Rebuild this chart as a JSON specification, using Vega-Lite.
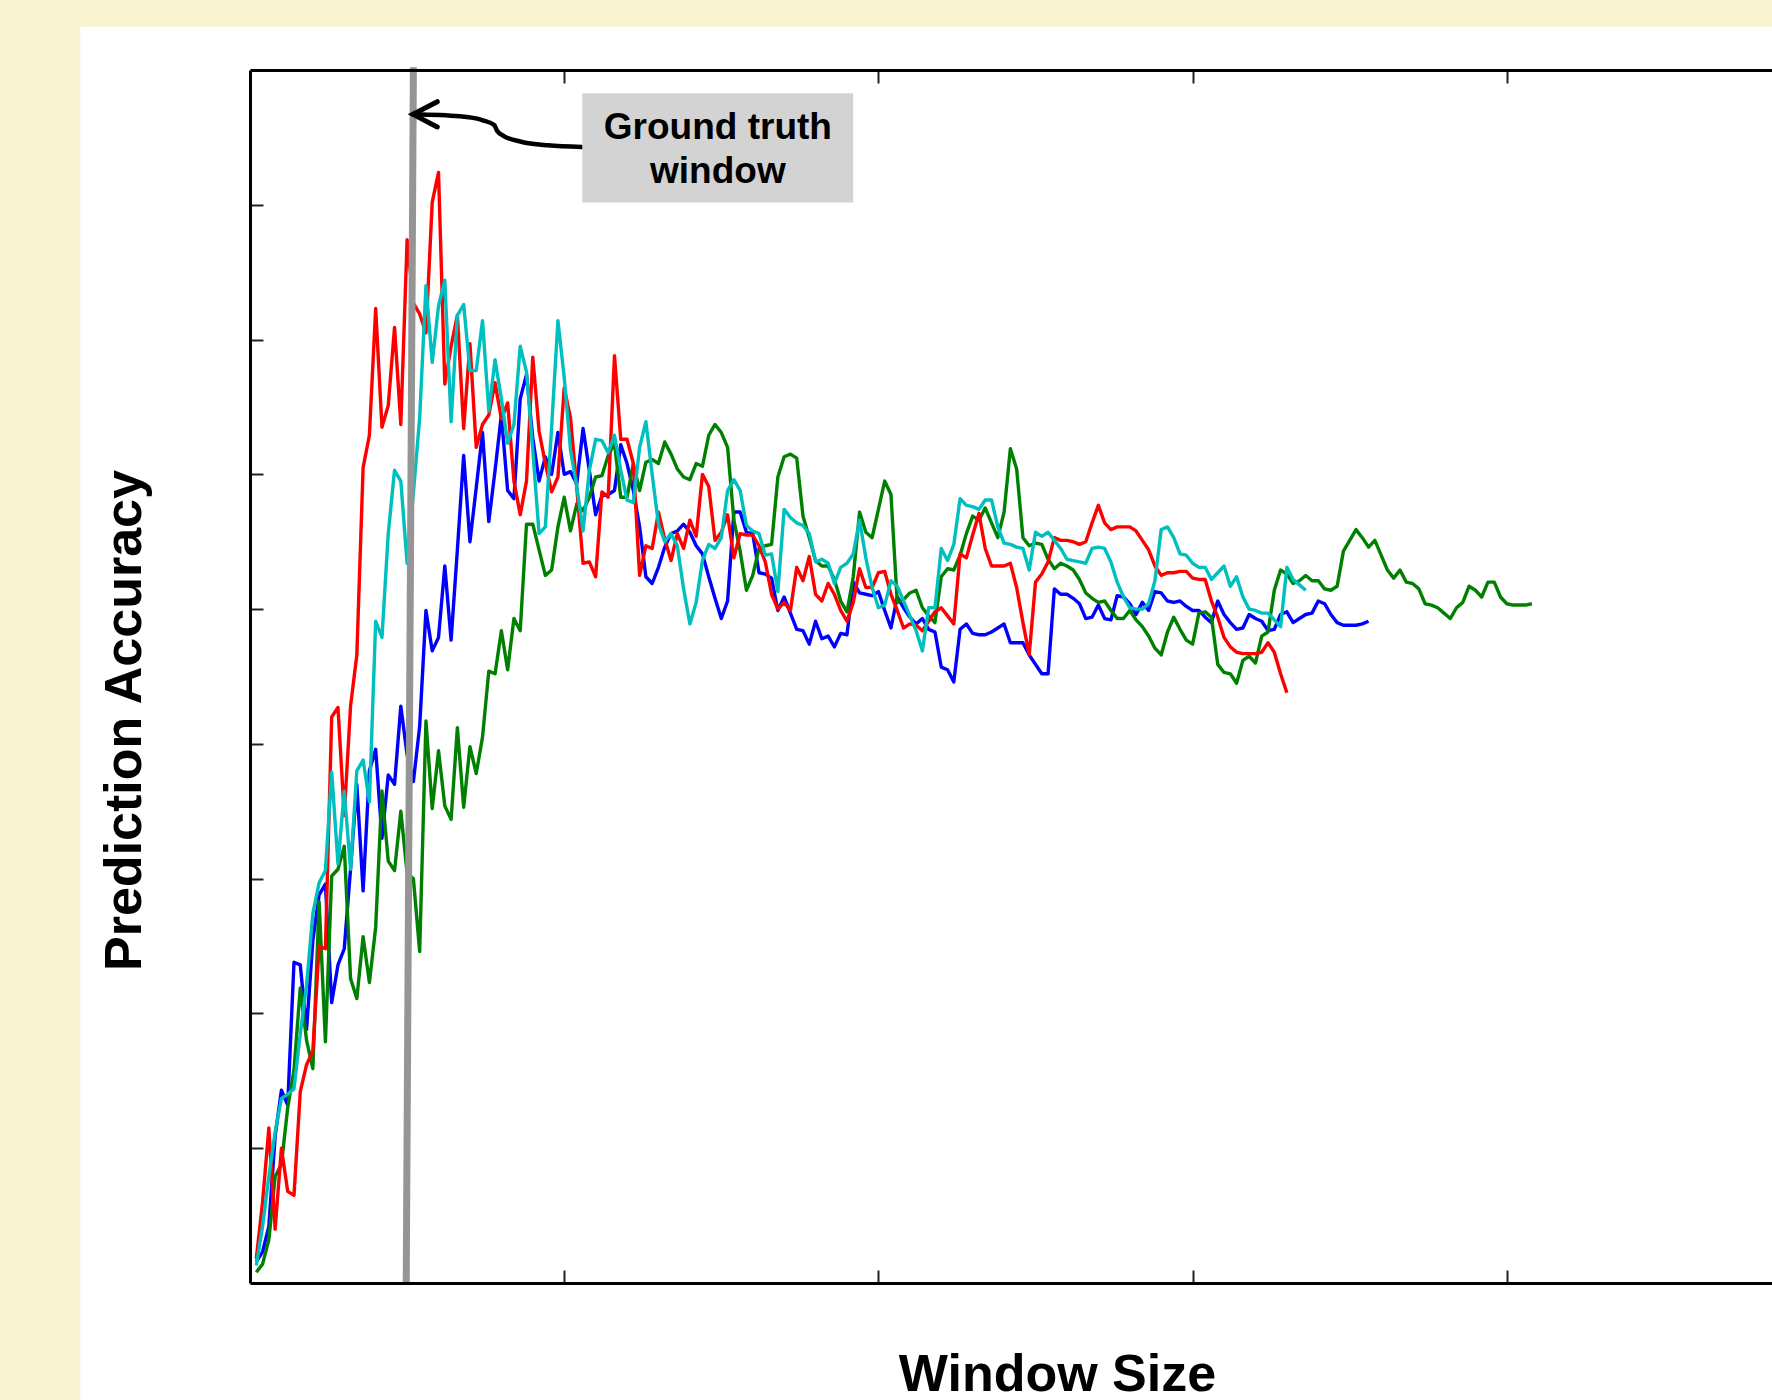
{
"$schema": "https://vega.github.io/schema/vega-lite/v6.json",
"width": 1522,
"height": 1213,
"autosize": {"type": "none"},
"padding": {"left": 250, "top": 70, "right": 0, "bottom": 117},
"background": "#F8F3D1",
"config": {"view": {"stroke": null}},
"resolve": {"axis": {"x": "independent", "y": "independent"}},
"datasets": {
"panel": [{"x0": -27, "x1": 262, "y0": 93.2, "y1": -10}],
"gt": [{"xb": 24.86, "xt": 26.0, "yb": 0, "yt": 90.2}],
"curve": [
{"i": 1, "x": 25.94, "y": 86.71}, {"i": 2, "x": 33.37, "y": 86.56}, {"i": 3, "x": 37.03, "y": 86.27},
{"i": 4, "x": 38.86, "y": 85.92}, {"i": 5, "x": 39.34, "y": 85.47}, {"i": 6, "x": 40.39, "y": 85.1},
{"i": 7, "x": 43.13, "y": 84.68}, {"i": 8, "x": 47.39, "y": 84.41}, {"i": 9, "x": 52.8, "y": 84.29}],
"head": [{"i": 1, "x": 29.8, "y": 87.65}, {"i": 2, "x": 25.94, "y": 86.71}, {"i": 3, "x": 29.8, "y": 85.77}],
"box": [{"x0": 52.87, "x1": 95.99, "y0": 88.27, "y1": 80.16}],
"label": [{"x": 74.45, "y": 85.72, "t": "Ground truth\nwindow"}],
"acc": [
{"s":"b","x":1,"y":1.6},{"s":"b","x":2,"y":2.3},{"s":"b","x":3,"y":4.2},{"s":"b","x":4,"y":10.9},{"s":"b","x":5,"y":14.3},{"s":"b","x":6,"y":13.2},{"s":"b","x":7,"y":23.8},{"s":"b","x":8,"y":23.6},{"s":"b","x":9,"y":18.8},{"s":"b","x":10,"y":25.4},
{"s":"b","x":11,"y":28.8},{"s":"b","x":12,"y":29.6},{"s":"b","x":13,"y":20.8},{"s":"b","x":14,"y":23.6},{"s":"b","x":15,"y":24.8},{"s":"b","x":16,"y":30.7},{"s":"b","x":17,"y":37},{"s":"b","x":18,"y":29.1},{"s":"b","x":19,"y":38},{"s":"b","x":20,"y":39.6},
{"s":"b","x":21,"y":33},{"s":"b","x":22,"y":37.7},{"s":"b","x":23,"y":37},{"s":"b","x":24,"y":42.8},{"s":"b","x":25,"y":39.2},{"s":"b","x":26,"y":37.2},{"s":"b","x":27,"y":41.3},{"s":"b","x":28,"y":49.9},{"s":"b","x":29,"y":46.9},{"s":"b","x":30,"y":47.9},
{"s":"b","x":31,"y":53.2},{"s":"b","x":32,"y":47.7},{"s":"b","x":33,"y":54.4},{"s":"b","x":34,"y":61.4},{"s":"b","x":35,"y":55},{"s":"b","x":36,"y":59},{"s":"b","x":37,"y":63.1},{"s":"b","x":38,"y":56.5},{"s":"b","x":39,"y":60.3},{"s":"b","x":40,"y":64.4},
{"s":"b","x":41,"y":58.8},{"s":"b","x":42,"y":58.2},{"s":"b","x":43,"y":65.6},{"s":"b","x":44,"y":67.4},{"s":"b","x":45,"y":62.7},{"s":"b","x":46,"y":59.5},{"s":"b","x":47,"y":61.3},{"s":"b","x":48,"y":60},{"s":"b","x":49,"y":63.1},{"s":"b","x":50,"y":60},
{"s":"b","x":51,"y":60.2},{"s":"b","x":52,"y":59.3},{"s":"b","x":53,"y":63.4},{"s":"b","x":54,"y":60.3},{"s":"b","x":55,"y":57},{"s":"b","x":56,"y":58.4},{"s":"b","x":57,"y":58.5},{"s":"b","x":58,"y":58.8},{"s":"b","x":59,"y":62.2},{"s":"b","x":60,"y":60.8},
{"s":"b","x":61,"y":58.8},{"s":"b","x":62,"y":56.1},{"s":"b","x":63,"y":52.4},{"s":"b","x":64,"y":51.9},{"s":"b","x":65,"y":53.1},{"s":"b","x":66,"y":54.6},{"s":"b","x":67,"y":55.6},{"s":"b","x":68,"y":55.8},{"s":"b","x":69,"y":56.3},{"s":"b","x":70,"y":55.7},
{"s":"b","x":71,"y":54.7},{"s":"b","x":72,"y":54.1},{"s":"b","x":73,"y":52.4},{"s":"b","x":74,"y":50.8},{"s":"b","x":75,"y":49.3},{"s":"b","x":76,"y":50.6},{"s":"b","x":77,"y":57.2},{"s":"b","x":78,"y":57.2},{"s":"b","x":79,"y":55.7},{"s":"b","x":80,"y":55.6},
{"s":"b","x":81,"y":52.7},{"s":"b","x":82,"y":52.6},{"s":"b","x":83,"y":52.3},{"s":"b","x":84,"y":49.9},{"s":"b","x":85,"y":50.9},{"s":"b","x":86,"y":49.7},{"s":"b","x":87,"y":48.5},{"s":"b","x":88,"y":48.4},{"s":"b","x":89,"y":47.4},{"s":"b","x":90,"y":49.1},
{"s":"b","x":91,"y":47.8},{"s":"b","x":92,"y":48},{"s":"b","x":93,"y":47.2},{"s":"b","x":94,"y":48.2},{"s":"b","x":95,"y":48.1},{"s":"b","x":96,"y":52},{"s":"b","x":97,"y":51.2},{"s":"b","x":98,"y":51.1},{"s":"b","x":99,"y":51},{"s":"b","x":100,"y":51.3},
{"s":"b","x":101,"y":49.9},{"s":"b","x":102,"y":48.6},{"s":"b","x":103,"y":50.9},{"s":"b","x":104,"y":50.1},{"s":"b","x":105,"y":49.4},{"s":"b","x":106,"y":48.9},{"s":"b","x":107,"y":49.3},{"s":"b","x":108,"y":48.5},{"s":"b","x":109,"y":48.3},{"s":"b","x":110,"y":45.7},
{"s":"b","x":111,"y":45.5},{"s":"b","x":112,"y":44.6},{"s":"b","x":113,"y":48.5},{"s":"b","x":114,"y":48.9},{"s":"b","x":115,"y":48.2},{"s":"b","x":116,"y":48.1},{"s":"b","x":117,"y":48.1},{"s":"b","x":118,"y":48.3},{"s":"b","x":119,"y":48.6},{"s":"b","x":120,"y":48.9},
{"s":"b","x":121,"y":47.5},{"s":"b","x":122,"y":47.5},{"s":"b","x":123,"y":47.5},{"s":"b","x":124,"y":46.6},{"s":"b","x":125,"y":45.9},{"s":"b","x":126,"y":45.2},{"s":"b","x":127,"y":45.2},{"s":"b","x":128,"y":51.5},{"s":"b","x":129,"y":51.1},{"s":"b","x":130,"y":51.1},
{"s":"b","x":131,"y":50.8},{"s":"b","x":132,"y":50.4},{"s":"b","x":133,"y":49.3},{"s":"b","x":134,"y":49.4},{"s":"b","x":135,"y":50.3},{"s":"b","x":136,"y":49.3},{"s":"b","x":137,"y":49.2},{"s":"b","x":138,"y":51},{"s":"b","x":139,"y":50.9},{"s":"b","x":140,"y":50.4},
{"s":"b","x":141,"y":49.6},{"s":"b","x":142,"y":50.5},{"s":"b","x":143,"y":49.9},{"s":"b","x":144,"y":51.3},{"s":"b","x":145,"y":51.2},{"s":"b","x":146,"y":50.6},{"s":"b","x":147,"y":50.5},{"s":"b","x":148,"y":50.6},{"s":"b","x":149,"y":50.2},{"s":"b","x":150,"y":49.9},
{"s":"b","x":151,"y":49.9},{"s":"b","x":152,"y":49.4},{"s":"b","x":153,"y":49},{"s":"b","x":154,"y":50.6},{"s":"b","x":155,"y":49.6},{"s":"b","x":156,"y":49},{"s":"b","x":157,"y":48.5},{"s":"b","x":158,"y":48.6},{"s":"b","x":159,"y":49.6},{"s":"b","x":160,"y":49.3},
{"s":"b","x":161,"y":49.1},{"s":"b","x":162,"y":48.4},{"s":"b","x":163,"y":48.5},{"s":"b","x":164,"y":49.6},{"s":"b","x":165,"y":49.8},{"s":"b","x":166,"y":49},{"s":"b","x":167,"y":49.3},{"s":"b","x":168,"y":49.6},{"s":"b","x":169,"y":49.7},{"s":"b","x":170,"y":50.6},
{"s":"b","x":171,"y":50.4},{"s":"b","x":172,"y":49.6},{"s":"b","x":173,"y":49},{"s":"b","x":174,"y":48.8},{"s":"b","x":175,"y":48.8},{"s":"b","x":176,"y":48.8},{"s":"b","x":177,"y":48.9},{"s":"b","x":178,"y":49.1},
{"s":"g","x":1,"y":0.8},{"s":"g","x":2,"y":1.4},{"s":"g","x":3,"y":3.2},{"s":"g","x":4,"y":7.9},{"s":"g","x":5,"y":8.8},{"s":"g","x":6,"y":13},{"s":"g","x":7,"y":15.8},{"s":"g","x":8,"y":21.9},{"s":"g","x":9,"y":18},{"s":"g","x":10,"y":15.9},
{"s":"g","x":11,"y":28.3},{"s":"g","x":12,"y":17.9},{"s":"g","x":13,"y":30.2},{"s":"g","x":14,"y":30.7},{"s":"g","x":15,"y":32.4},{"s":"g","x":16,"y":22.6},{"s":"g","x":17,"y":21.1},{"s":"g","x":18,"y":25.7},{"s":"g","x":19,"y":22.3},{"s":"g","x":20,"y":26.4},
{"s":"g","x":21,"y":36.5},{"s":"g","x":22,"y":31.3},{"s":"g","x":23,"y":30.6},{"s":"g","x":24,"y":35},{"s":"g","x":25,"y":30.4},{"s":"g","x":26,"y":30},{"s":"g","x":27,"y":24.6},{"s":"g","x":28,"y":41.7},{"s":"g","x":29,"y":35.2},{"s":"g","x":30,"y":39.5},
{"s":"g","x":31,"y":35.4},{"s":"g","x":32,"y":34.4},{"s":"g","x":33,"y":41.2},{"s":"g","x":34,"y":35.3},{"s":"g","x":35,"y":39.8},{"s":"g","x":36,"y":37.8},{"s":"g","x":37,"y":40.5},{"s":"g","x":38,"y":45.4},{"s":"g","x":39,"y":45.2},{"s":"g","x":40,"y":48.4},
{"s":"g","x":41,"y":45.5},{"s":"g","x":42,"y":49.3},{"s":"g","x":43,"y":48.4},{"s":"g","x":44,"y":56.3},{"s":"g","x":45,"y":56.3},{"s":"g","x":46,"y":54.4},{"s":"g","x":47,"y":52.5},{"s":"g","x":48,"y":52.9},{"s":"g","x":49,"y":56.1},{"s":"g","x":50,"y":58.3},
{"s":"g","x":51,"y":55.8},{"s":"g","x":52,"y":57.8},{"s":"g","x":53,"y":57.3},{"s":"g","x":54,"y":58.3},{"s":"g","x":55,"y":59.8},{"s":"g","x":56,"y":59.9},{"s":"g","x":57,"y":61.4},{"s":"g","x":58,"y":62.3},{"s":"g","x":59,"y":58.3},{"s":"g","x":60,"y":58.3},
{"s":"g","x":61,"y":60.8},{"s":"g","x":62,"y":58.8},{"s":"g","x":63,"y":60.9},{"s":"g","x":64,"y":61.1},{"s":"g","x":65,"y":60.8},{"s":"g","x":66,"y":62.4},{"s":"g","x":67,"y":61.5},{"s":"g","x":68,"y":60.4},{"s":"g","x":69,"y":59.8},{"s":"g","x":70,"y":59.6},
{"s":"g","x":71,"y":60.8},{"s":"g","x":72,"y":60.6},{"s":"g","x":73,"y":62.9},{"s":"g","x":74,"y":63.7},{"s":"g","x":75,"y":63.1},{"s":"g","x":76,"y":62},{"s":"g","x":77,"y":56.6},{"s":"g","x":78,"y":54.3},{"s":"g","x":79,"y":51.4},{"s":"g","x":80,"y":52.5},
{"s":"g","x":81,"y":54.5},{"s":"g","x":82,"y":54.7},{"s":"g","x":83,"y":54.8},{"s":"g","x":84,"y":59.8},{"s":"g","x":85,"y":61.3},{"s":"g","x":86,"y":61.5},{"s":"g","x":87,"y":61.2},{"s":"g","x":88,"y":56.9},{"s":"g","x":89,"y":55.3},{"s":"g","x":90,"y":53.6},
{"s":"g","x":91,"y":53.2},{"s":"g","x":92,"y":53.2},{"s":"g","x":93,"y":52.2},{"s":"g","x":94,"y":50.6},{"s":"g","x":95,"y":49.8},{"s":"g","x":96,"y":52.4},{"s":"g","x":97,"y":57.2},{"s":"g","x":98,"y":55.7},{"s":"g","x":99,"y":55.3},{"s":"g","x":100,"y":57.4},
{"s":"g","x":101,"y":59.5},{"s":"g","x":102,"y":58.5},{"s":"g","x":103,"y":50.5},{"s":"g","x":104,"y":50.7},{"s":"g","x":105,"y":51.2},{"s":"g","x":106,"y":51.4},{"s":"g","x":107,"y":50.1},{"s":"g","x":108,"y":49.5},{"s":"g","x":109,"y":49},{"s":"g","x":110,"y":52.4},
{"s":"g","x":111,"y":53},{"s":"g","x":112,"y":52.9},{"s":"g","x":113,"y":54},{"s":"g","x":114,"y":55.6},{"s":"g","x":115,"y":56.9},{"s":"g","x":116,"y":56.6},{"s":"g","x":117,"y":57.5},{"s":"g","x":118,"y":56.4},{"s":"g","x":119,"y":55.3},{"s":"g","x":120,"y":57.2},
{"s":"g","x":121,"y":61.9},{"s":"g","x":122,"y":60.4},{"s":"g","x":123,"y":55.3},{"s":"g","x":124,"y":54.7},{"s":"g","x":125,"y":54.9},{"s":"g","x":126,"y":54.8},{"s":"g","x":127,"y":53.7},{"s":"g","x":128,"y":53},{"s":"g","x":129,"y":53.4},{"s":"g","x":130,"y":53.2},
{"s":"g","x":131,"y":52.9},{"s":"g","x":132,"y":52.2},{"s":"g","x":133,"y":51.2},{"s":"g","x":134,"y":50.8},{"s":"g","x":135,"y":50.5},{"s":"g","x":136,"y":50.6},{"s":"g","x":137,"y":49.9},{"s":"g","x":138,"y":49.3},{"s":"g","x":139,"y":49.3},{"s":"g","x":140,"y":49.9},
{"s":"g","x":141,"y":49.2},{"s":"g","x":142,"y":48.7},{"s":"g","x":143,"y":48},{"s":"g","x":144,"y":47.1},{"s":"g","x":145,"y":46.6},{"s":"g","x":146,"y":48.3},{"s":"g","x":147,"y":49.4},{"s":"g","x":148,"y":48.5},{"s":"g","x":149,"y":47.7},{"s":"g","x":150,"y":47.4},
{"s":"g","x":151,"y":49.7},{"s":"g","x":152,"y":49.8},{"s":"g","x":153,"y":49.4},{"s":"g","x":154,"y":45.9},{"s":"g","x":155,"y":45.3},{"s":"g","x":156,"y":45.2},{"s":"g","x":157,"y":44.5},{"s":"g","x":158,"y":46.2},{"s":"g","x":159,"y":46.5},{"s":"g","x":160,"y":46},
{"s":"g","x":161,"y":48},{"s":"g","x":162,"y":48.3},{"s":"g","x":163,"y":51.4},{"s":"g","x":164,"y":52.9},{"s":"g","x":165,"y":52.6},{"s":"g","x":166,"y":51.9},{"s":"g","x":167,"y":52.1},{"s":"g","x":168,"y":52.5},{"s":"g","x":169,"y":52.1},{"s":"g","x":170,"y":52.1},
{"s":"g","x":171,"y":51.5},{"s":"g","x":172,"y":51.4},{"s":"g","x":173,"y":51.7},{"s":"g","x":174,"y":54.3},{"s":"g","x":175,"y":55.1},{"s":"g","x":176,"y":55.9},{"s":"g","x":177,"y":55.3},{"s":"g","x":178,"y":54.6},{"s":"g","x":179,"y":55.1},{"s":"g","x":180,"y":54},
{"s":"g","x":181,"y":52.9},{"s":"g","x":182,"y":52.3},{"s":"g","x":183,"y":52.9},{"s":"g","x":184,"y":52},{"s":"g","x":185,"y":51.9},{"s":"g","x":186,"y":51.5},{"s":"g","x":187,"y":50.4},{"s":"g","x":188,"y":50.3},{"s":"g","x":189,"y":50.1},{"s":"g","x":190,"y":49.7},
{"s":"g","x":191,"y":49.3},{"s":"g","x":192,"y":50.1},{"s":"g","x":193,"y":50.5},{"s":"g","x":194,"y":51.7},{"s":"g","x":195,"y":51.4},{"s":"g","x":196,"y":50.9},{"s":"g","x":197,"y":52},{"s":"g","x":198,"y":52},{"s":"g","x":199,"y":50.9},{"s":"g","x":200,"y":50.4},
{"s":"g","x":201,"y":50.3},{"s":"g","x":202,"y":50.3},{"s":"g","x":203,"y":50.3},{"s":"g","x":204,"y":50.4},
{"s":"r","x":1,"y":1.8},{"s":"r","x":2,"y":6},{"s":"r","x":3,"y":11.5},{"s":"r","x":4,"y":4},{"s":"r","x":5,"y":10},{"s":"r","x":6,"y":6.8},{"s":"r","x":7,"y":6.5},{"s":"r","x":8,"y":14.2},{"s":"r","x":9,"y":16.2},{"s":"r","x":10,"y":17.2},
{"s":"r","x":11,"y":25},{"s":"r","x":12,"y":24.8},{"s":"r","x":13,"y":42},{"s":"r","x":14,"y":42.7},{"s":"r","x":15,"y":34.7},{"s":"r","x":16,"y":42.8},{"s":"r","x":17,"y":46.6},{"s":"r","x":18,"y":60.5},{"s":"r","x":19,"y":62.9},{"s":"r","x":20,"y":72.3},
{"s":"r","x":21,"y":63.5},{"s":"r","x":22,"y":65.1},{"s":"r","x":23,"y":70.9},{"s":"r","x":24,"y":63.7},{"s":"r","x":25,"y":77.4},{"s":"r","x":26,"y":72.7},{"s":"r","x":27,"y":71.9},{"s":"r","x":28,"y":70.5},{"s":"r","x":29,"y":80.2},{"s":"r","x":30,"y":82.4},
{"s":"r","x":31,"y":66.7},{"s":"r","x":32,"y":69.5},{"s":"r","x":33,"y":71.8},{"s":"r","x":34,"y":63.4},{"s":"r","x":35,"y":69.7},{"s":"r","x":36,"y":62},{"s":"r","x":37,"y":63.7},{"s":"r","x":38,"y":64.4},{"s":"r","x":39,"y":66.8},{"s":"r","x":40,"y":64.1},
{"s":"r","x":41,"y":65.3},{"s":"r","x":42,"y":59.5},{"s":"r","x":43,"y":57},{"s":"r","x":44,"y":59.5},{"s":"r","x":45,"y":68.7},{"s":"r","x":46,"y":63.2},{"s":"r","x":47,"y":60.8},{"s":"r","x":48,"y":58.7},{"s":"r","x":49,"y":59.8},{"s":"r","x":50,"y":66.4},
{"s":"r","x":51,"y":64.2},{"s":"r","x":52,"y":59},{"s":"r","x":53,"y":53.4},{"s":"r","x":54,"y":53.5},{"s":"r","x":55,"y":52.4},{"s":"r","x":56,"y":58.7},{"s":"r","x":57,"y":58.3},{"s":"r","x":58,"y":68.8},{"s":"r","x":59,"y":62.6},{"s":"r","x":60,"y":62.6},
{"s":"r","x":61,"y":60.8},{"s":"r","x":62,"y":52.5},{"s":"r","x":63,"y":54.7},{"s":"r","x":64,"y":54.5},{"s":"r","x":65,"y":57.2},{"s":"r","x":66,"y":55.2},{"s":"r","x":67,"y":53.6},{"s":"r","x":68,"y":55.6},{"s":"r","x":69,"y":54.5},{"s":"r","x":70,"y":56.6},
{"s":"r","x":71,"y":55.4},{"s":"r","x":72,"y":60},{"s":"r","x":73,"y":59.1},{"s":"r","x":74,"y":55.1},{"s":"r","x":75,"y":55.7},{"s":"r","x":76,"y":57},{"s":"r","x":77,"y":53.8},{"s":"r","x":78,"y":55.6},{"s":"r","x":79,"y":55.5},{"s":"r","x":80,"y":55.5},
{"s":"r","x":81,"y":54.7},{"s":"r","x":82,"y":53.5},{"s":"r","x":83,"y":51.1},{"s":"r","x":84,"y":50},{"s":"r","x":85,"y":50.5},{"s":"r","x":86,"y":49.9},{"s":"r","x":87,"y":53.1},{"s":"r","x":88,"y":52.1},{"s":"r","x":89,"y":53.9},{"s":"r","x":90,"y":51.1},
{"s":"r","x":91,"y":50.6},{"s":"r","x":92,"y":51.9},{"s":"r","x":93,"y":51.1},{"s":"r","x":94,"y":49.9},{"s":"r","x":95,"y":49.1},{"s":"r","x":96,"y":50.5},{"s":"r","x":97,"y":53},{"s":"r","x":98,"y":51.6},{"s":"r","x":99,"y":51.6},{"s":"r","x":100,"y":52.7},
{"s":"r","x":101,"y":52.8},{"s":"r","x":102,"y":51.1},{"s":"r","x":103,"y":49.9},{"s":"r","x":104,"y":48.6},{"s":"r","x":105,"y":48.9},{"s":"r","x":106,"y":48.8},{"s":"r","x":107,"y":48.4},{"s":"r","x":108,"y":49.1},{"s":"r","x":109,"y":49.8},{"s":"r","x":110,"y":50.1},
{"s":"r","x":111,"y":49.5},{"s":"r","x":112,"y":48.9},{"s":"r","x":113,"y":54.1},{"s":"r","x":114,"y":53.8},{"s":"r","x":115,"y":55.5},{"s":"r","x":116,"y":57.1},{"s":"r","x":117,"y":54.5},{"s":"r","x":118,"y":53.2},{"s":"r","x":119,"y":53.2},{"s":"r","x":120,"y":53.2},
{"s":"r","x":121,"y":53.4},{"s":"r","x":122,"y":51.6},{"s":"r","x":123,"y":49},{"s":"r","x":124,"y":46.6},{"s":"r","x":125,"y":52},{"s":"r","x":126,"y":52.6},{"s":"r","x":127,"y":53.5},{"s":"r","x":128,"y":55.3},{"s":"r","x":129,"y":55.1},{"s":"r","x":130,"y":55.1},
{"s":"r","x":131,"y":55},{"s":"r","x":132,"y":54.8},{"s":"r","x":133,"y":55},{"s":"r","x":134,"y":56.4},{"s":"r","x":135,"y":57.7},{"s":"r","x":136,"y":56.4},{"s":"r","x":137,"y":55.9},{"s":"r","x":138,"y":56.1},{"s":"r","x":139,"y":56.1},{"s":"r","x":140,"y":56.1},
{"s":"r","x":141,"y":55.8},{"s":"r","x":142,"y":55.1},{"s":"r","x":143,"y":54.4},{"s":"r","x":144,"y":53.2},{"s":"r","x":145,"y":52.5},{"s":"r","x":146,"y":52.7},{"s":"r","x":147,"y":52.7},{"s":"r","x":148,"y":52.8},{"s":"r","x":149,"y":52.8},{"s":"r","x":150,"y":52.3},
{"s":"r","x":151,"y":52.2},{"s":"r","x":152,"y":52.2},{"s":"r","x":153,"y":50.6},{"s":"r","x":154,"y":49.4},{"s":"r","x":155,"y":47.9},{"s":"r","x":156,"y":47.2},{"s":"r","x":157,"y":46.8},{"s":"r","x":158,"y":46.7},{"s":"r","x":159,"y":46.7},{"s":"r","x":160,"y":46.7},
{"s":"r","x":161,"y":46.8},{"s":"r","x":162,"y":47.5},{"s":"r","x":163,"y":46.8},{"s":"r","x":164,"y":45.2},{"s":"r","x":165,"y":43.8},
{"s":"c","x":1,"y":1.3},{"s":"c","x":2,"y":4.2},{"s":"c","x":3,"y":7.9},{"s":"c","x":4,"y":11.2},{"s":"c","x":5,"y":13.7},{"s":"c","x":6,"y":14},{"s":"c","x":7,"y":14.4},{"s":"c","x":8,"y":18.5},{"s":"c","x":9,"y":22.1},{"s":"c","x":10,"y":27.4},
{"s":"c","x":11,"y":29.7},{"s":"c","x":12,"y":30.6},{"s":"c","x":13,"y":37.9},{"s":"c","x":14,"y":31.1},{"s":"c","x":15,"y":36.5},{"s":"c","x":16,"y":30.7},{"s":"c","x":17,"y":38},{"s":"c","x":18,"y":38.8},{"s":"c","x":19,"y":35.7},{"s":"c","x":20,"y":49.1},
{"s":"c","x":21,"y":47.9},{"s":"c","x":22,"y":55.6},{"s":"c","x":23,"y":60.3},{"s":"c","x":24,"y":59.5},{"s":"c","x":25,"y":53.4},{"s":"c","x":26,"y":58.6},{"s":"c","x":27,"y":64.2},{"s":"c","x":28,"y":74},{"s":"c","x":29,"y":68.3},{"s":"c","x":30,"y":72.5},
{"s":"c","x":31,"y":74.4},{"s":"c","x":32,"y":63.9},{"s":"c","x":33,"y":71.8},{"s":"c","x":34,"y":72.6},{"s":"c","x":35,"y":67.7},{"s":"c","x":36,"y":67.7},{"s":"c","x":37,"y":71.4},{"s":"c","x":38,"y":64.7},{"s":"c","x":39,"y":68.5},{"s":"c","x":40,"y":65.6},
{"s":"c","x":41,"y":62.3},{"s":"c","x":42,"y":63.7},{"s":"c","x":43,"y":69.5},{"s":"c","x":44,"y":67.6},{"s":"c","x":45,"y":61.8},{"s":"c","x":46,"y":55.6},{"s":"c","x":47,"y":56.1},{"s":"c","x":48,"y":63.5},{"s":"c","x":49,"y":71.4},{"s":"c","x":50,"y":67.2},
{"s":"c","x":51,"y":61.8},{"s":"c","x":52,"y":59.1},{"s":"c","x":53,"y":55.8},{"s":"c","x":54,"y":60.3},{"s":"c","x":55,"y":62.6},{"s":"c","x":56,"y":62.5},{"s":"c","x":57,"y":61.6},{"s":"c","x":58,"y":62.9},{"s":"c","x":59,"y":60.3},{"s":"c","x":60,"y":58.1},
{"s":"c","x":61,"y":57.9},{"s":"c","x":62,"y":62},{"s":"c","x":63,"y":63.9},{"s":"c","x":64,"y":60},{"s":"c","x":65,"y":56.3},{"s":"c","x":66,"y":55},{"s":"c","x":67,"y":55.6},{"s":"c","x":68,"y":54.7},{"s":"c","x":69,"y":51.5},{"s":"c","x":70,"y":48.9},
{"s":"c","x":71,"y":50.5},{"s":"c","x":72,"y":53.6},{"s":"c","x":73,"y":54.8},{"s":"c","x":74,"y":54.5},{"s":"c","x":75,"y":55.3},{"s":"c","x":76,"y":58.8},{"s":"c","x":77,"y":59.6},{"s":"c","x":78,"y":58.8},{"s":"c","x":79,"y":56.2},{"s":"c","x":80,"y":55.8},
{"s":"c","x":81,"y":55.6},{"s":"c","x":82,"y":54},{"s":"c","x":83,"y":54.1},{"s":"c","x":84,"y":51.3},{"s":"c","x":85,"y":57.4},{"s":"c","x":86,"y":56.8},{"s":"c","x":87,"y":56.4},{"s":"c","x":88,"y":56.2},{"s":"c","x":89,"y":55.6},{"s":"c","x":90,"y":53.5},
{"s":"c","x":91,"y":53.7},{"s":"c","x":92,"y":53.4},{"s":"c","x":93,"y":51.9},{"s":"c","x":94,"y":53.1},{"s":"c","x":95,"y":53.4},{"s":"c","x":96,"y":54.1},{"s":"c","x":97,"y":56.6},{"s":"c","x":98,"y":53.8},{"s":"c","x":99,"y":51.6},{"s":"c","x":100,"y":50.1},
{"s":"c","x":101,"y":50.3},{"s":"c","x":102,"y":52.1},{"s":"c","x":103,"y":51.7},{"s":"c","x":104,"y":50.6},{"s":"c","x":105,"y":49.5},{"s":"c","x":106,"y":48.4},{"s":"c","x":107,"y":46.9},{"s":"c","x":108,"y":50.1},{"s":"c","x":109,"y":50.1},{"s":"c","x":110,"y":54.5},
{"s":"c","x":111,"y":53.6},{"s":"c","x":112,"y":54.8},{"s":"c","x":113,"y":58.2},{"s":"c","x":114,"y":57.7},{"s":"c","x":115,"y":57.6},{"s":"c","x":116,"y":57.4},{"s":"c","x":117,"y":58.1},{"s":"c","x":118,"y":58.1},{"s":"c","x":119,"y":56.1},{"s":"c","x":120,"y":54.9},
{"s":"c","x":121,"y":54.8},{"s":"c","x":122,"y":54.6},{"s":"c","x":123,"y":54.5},{"s":"c","x":124,"y":52.9},{"s":"c","x":125,"y":55.7},{"s":"c","x":126,"y":55.4},{"s":"c","x":127,"y":55.7},{"s":"c","x":128,"y":55.1},{"s":"c","x":129,"y":54.5},{"s":"c","x":130,"y":53.7},
{"s":"c","x":131,"y":53.6},{"s":"c","x":132,"y":53.5},{"s":"c","x":133,"y":53.4},{"s":"c","x":134,"y":54.5},{"s":"c","x":135,"y":54.6},{"s":"c","x":136,"y":54.5},{"s":"c","x":137,"y":53.5},{"s":"c","x":138,"y":52},{"s":"c","x":139,"y":50.9},{"s":"c","x":140,"y":50.1},
{"s":"c","x":141,"y":50},{"s":"c","x":142,"y":50},{"s":"c","x":143,"y":50.4},{"s":"c","x":144,"y":52.1},{"s":"c","x":145,"y":55.9},{"s":"c","x":146,"y":56.1},{"s":"c","x":147,"y":55.3},{"s":"c","x":148,"y":54.1},{"s":"c","x":149,"y":54},{"s":"c","x":150,"y":53.4},
{"s":"c","x":151,"y":53.1},{"s":"c","x":152,"y":53.1},{"s":"c","x":153,"y":52.2},{"s":"c","x":154,"y":52.7},{"s":"c","x":155,"y":53.2},{"s":"c","x":156,"y":51.7},{"s":"c","x":157,"y":52.4},{"s":"c","x":158,"y":50.9},{"s":"c","x":159,"y":50},{"s":"c","x":160,"y":49.9},
{"s":"c","x":161,"y":49.7},{"s":"c","x":162,"y":49.7},{"s":"c","x":163,"y":49.2},{"s":"c","x":164,"y":48.7},{"s":"c","x":165,"y":53.1},{"s":"c","x":166,"y":52.2},{"s":"c","x":167,"y":51.8},{"s":"c","x":168,"y":51.4}
]
},
"layer": [
{
"data": {"name": "panel"},
"mark": {"type": "rect", "fill": "#FFFFFF", "clip": false},
"encoding": {
"x": {"field": "x0", "type": "quantitative", "scale": {"domain": [0, 242.2], "nice": false, "zero": false},
"axis": {"orient": "bottom", "values": [50, 100, 150, 200], "labels": false, "ticks": true, "tickSize": -13, "tickColor": "#222222", "tickWidth": 2, "domain": true, "domainColor": "#000000", "domainWidth": 3, "grid": false, "zindex": 1,
"title": "Window Size", "titleFont": "Liberation Sans", "titleFontSize": 52, "titleFontWeight": "bold", "titleColor": "#000000", "titleX": 807, "titleY": 107, "titleAlign": "center", "titleBaseline": "alphabetic"}},
"x2": {"field": "x1"},
"y": {"field": "y0", "type": "quantitative", "scale": {"domain": [0, 90], "nice": false, "zero": false},
"axis": {"orient": "left", "values": [10, 20, 30, 40, 50, 60, 70, 80], "labels": false, "ticks": true, "tickSize": -13, "tickColor": "#222222", "tickWidth": 2, "domain": true, "domainColor": "#000000", "domainWidth": 3, "grid": false, "zindex": 1,
"title": "Prediction Accuracy", "titleFont": "Liberation Sans", "titleFontSize": 52, "titleFontWeight": "bold", "titleColor": "#000000", "titleAngle": 270, "titleX": -110, "titleY": 650, "titleAlign": "center", "titleBaseline": "alphabetic"}},
"y2": {"field": "y1"}
}
},
{
"data": {"name": "acc"},
"mark": {"type": "line", "strokeWidth": 3.4, "strokeJoin": "round", "clip": false},
"encoding": {
"x": {"field": "x", "type": "quantitative", "scale": {"domain": [0, 242.2], "nice": false, "zero": false},
"axis": {"orient": "top", "values": [50, 100, 150, 200], "labels": false, "ticks": true, "tickSize": -13, "tickColor": "#222222", "tickWidth": 2, "domain": true, "domainColor": "#000000", "domainWidth": 3, "grid": false, "zindex": 1, "title": null}},
"y": {"field": "y", "type": "quantitative", "scale": {"domain": [0, 90], "nice": false, "zero": false}, "axis": null},
"color": {"field": "s", "type": "nominal", "scale": {"domain": ["b", "g", "r", "c"], "range": ["#0000FF", "#008000", "#FF0000", "#00BFBF"]}, "legend": null}
}
},
{
"data": {"name": "gt"},
"mark": {"type": "rule", "color": "#959595", "strokeWidth": 7, "clip": false},
"encoding": {
"x": {"field": "xb", "type": "quantitative", "scale": {"domain": [0, 242.2], "nice": false, "zero": false}, "axis": null},
"x2": {"field": "xt"},
"y": {"field": "yb", "type": "quantitative", "scale": {"domain": [0, 90], "nice": false, "zero": false}, "axis": null},
"y2": {"field": "yt"}
}
},
{
"data": {"name": "curve"},
"mark": {"type": "line", "color": "#000000", "strokeWidth": 4.5, "strokeCap": "round", "interpolate": "monotone", "clip": false},
"encoding": {
"x": {"field": "x", "type": "quantitative", "scale": {"domain": [0, 242.2], "nice": false, "zero": false}, "axis": null},
"y": {"field": "y", "type": "quantitative", "scale": {"domain": [0, 90], "nice": false, "zero": false}, "axis": null},
"order": {"field": "i", "type": "quantitative"}
}
},
{
"data": {"name": "head"},
"mark": {"type": "line", "color": "#000000", "strokeWidth": 5, "strokeCap": "round", "strokeJoin": "miter", "clip": false},
"encoding": {
"x": {"field": "x", "type": "quantitative", "scale": {"domain": [0, 242.2], "nice": false, "zero": false}, "axis": null},
"y": {"field": "y", "type": "quantitative", "scale": {"domain": [0, 90], "nice": false, "zero": false}, "axis": null},
"order": {"field": "i", "type": "quantitative"}
}
},
{
"data": {"name": "box"},
"mark": {"type": "rect", "fill": "#D3D3D3", "clip": false},
"encoding": {
"x": {"field": "x0", "type": "quantitative", "scale": {"domain": [0, 242.2], "nice": false, "zero": false}, "axis": null},
"x2": {"field": "x1"},
"y": {"field": "y0", "type": "quantitative", "scale": {"domain": [0, 90], "nice": false, "zero": false}, "axis": null},
"y2": {"field": "y1"}
}
},
{
"data": {"name": "label"},
"mark": {"type": "text", "font": "Liberation Sans", "fontSize": 37, "fontWeight": "bold", "color": "#000000", "align": "center", "baseline": "middle", "lineBreak": "\n", "lineHeight": 44, "clip": false},
"encoding": {
"x": {"field": "x", "type": "quantitative", "scale": {"domain": [0, 242.2], "nice": false, "zero": false}, "axis": null},
"y": {"field": "y", "type": "quantitative", "scale": {"domain": [0, 90], "nice": false, "zero": false}, "axis": null},
"text": {"field": "t"}
}
}
]
}
